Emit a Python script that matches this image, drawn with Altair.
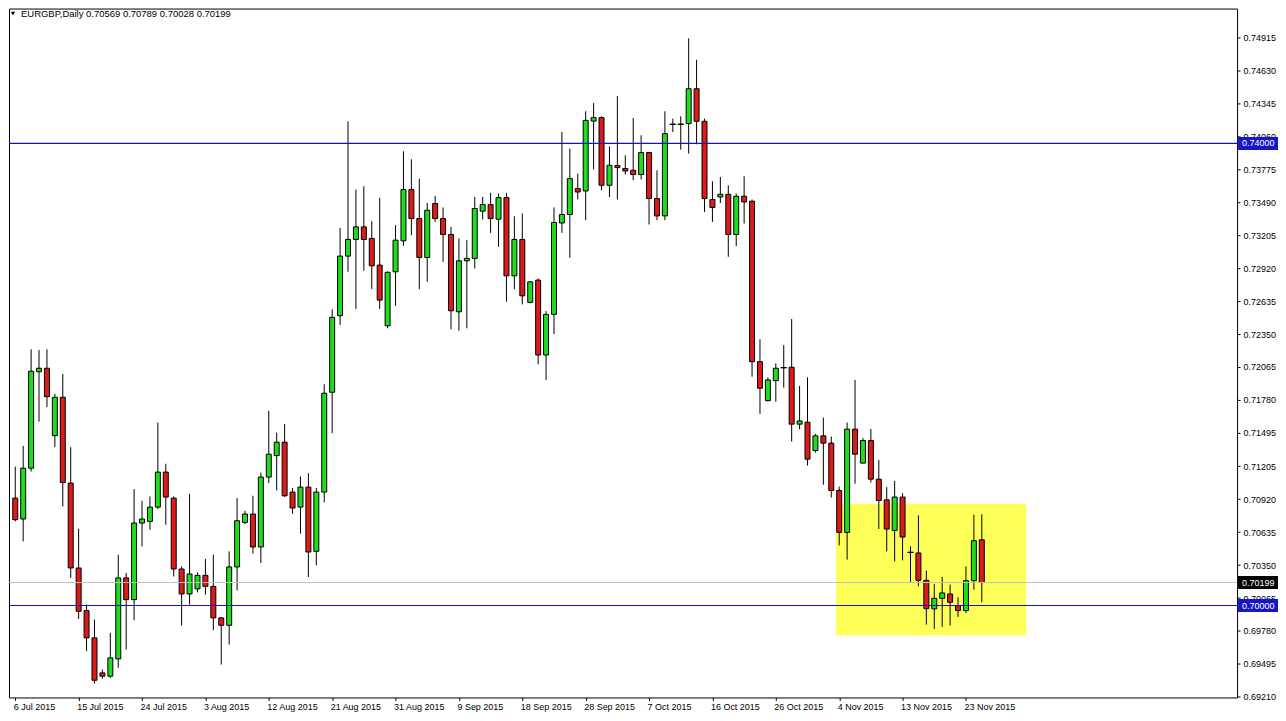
import altair as alt
import pandas as pd

# ---- OHLC values (EURGBP daily) ----
opens = [
    0.70930, 0.70749, 0.71189, 0.72024, 0.72054, 0.71471, 0.71803, 0.71060, 0.70325, 0.69956,
    0.69720, 0.69417, 0.69388, 0.69538, 0.70239, 0.70051, 0.70714, 0.70728, 0.70852, 0.71155,
    0.70930, 0.70316, 0.70100, 0.70144, 0.70261, 0.70166, 0.69893, 0.69829, 0.70334, 0.70719,
    0.70792, 0.70507, 0.71112, 0.71298, 0.71414, 0.70982, 0.70852, 0.71025, 0.70469, 0.70982,
    0.71846, 0.72509, 0.73025, 0.73169, 0.73278, 0.73178, 0.72947, 0.72422, 0.72889, 0.73157,
    0.73601, 0.73350, 0.73013, 0.73480, 0.73350, 0.73212, 0.72543, 0.72984, 0.73005, 0.73414,
    0.73471, 0.73344, 0.73532, 0.72854, 0.73169, 0.72624, 0.72817, 0.72169, 0.72521, 0.73312,
    0.73385, 0.73610, 0.73589, 0.74194, 0.74224, 0.73638, 0.73809, 0.73783, 0.73768, 0.73731,
    0.73921, 0.73523, 0.73373, 0.74166, 0.74166, 0.74172, 0.74474, 0.74192, 0.73515, 0.73537,
    0.73560, 0.73212, 0.73543, 0.73500, 0.72111, 0.71774, 0.71947, 0.72059, 0.72063, 0.71570,
    0.71587, 0.71342, 0.71469, 0.71406, 0.70996, 0.70633, 0.71527, 0.71233, 0.71428, 0.71094,
    0.70915, 0.70650, 0.70939, 0.70460, 0.70455, 0.70218, 0.69971, 0.70062, 0.70100, 0.69999,
    0.69956, 0.70215, 0.70569,
]
highs = [
    0.71203, 0.71382, 0.72218, 0.72212, 0.72218, 0.71832, 0.72005, 0.71371, 0.70665, 0.70008,
    0.69878, 0.69446, 0.69763, 0.70440, 0.70282, 0.71008, 0.70907, 0.70944, 0.71584, 0.71227,
    0.70944, 0.70339, 0.70967, 0.70287, 0.70403, 0.70440, 0.69900, 0.70469, 0.70930, 0.70820,
    0.70950, 0.71151, 0.71685, 0.71497, 0.71572, 0.71017, 0.71117, 0.71146, 0.71017, 0.71916,
    0.72564, 0.73269, 0.74192, 0.73601, 0.73630, 0.73327, 0.73529, 0.72895, 0.73293, 0.73932,
    0.73863, 0.73696, 0.73485, 0.73546, 0.73446, 0.73278, 0.73178, 0.73163, 0.73537, 0.73537,
    0.73572, 0.73567, 0.73572, 0.73370, 0.73394, 0.72808, 0.72832, 0.72549, 0.73446, 0.74099,
    0.73956, 0.73739, 0.74278, 0.74350, 0.74235, 0.73975, 0.74410, 0.73898, 0.74220, 0.74071,
    0.73926, 0.73768, 0.74278, 0.74215, 0.74235, 0.74910, 0.74725, 0.74215, 0.73673, 0.73710,
    0.73638, 0.73567, 0.73716, 0.73515, 0.72305, 0.71976, 0.72097, 0.72255, 0.72480, 0.71901,
    0.71976, 0.71486, 0.71627, 0.71463, 0.71030, 0.71584, 0.71953, 0.71449, 0.71527, 0.71261,
    0.71025, 0.71080, 0.70973, 0.70512, 0.70780, 0.70302, 0.70187, 0.70247, 0.70181, 0.70071,
    0.70339, 0.70786, 0.70789,
]
lows = [
    0.70728, 0.70555, 0.71160, 0.71592, 0.71717, 0.71371, 0.70858, 0.70239, 0.69884, 0.69604,
    0.69325, 0.69366, 0.69374, 0.69461, 0.69619, 0.69872, 0.70512, 0.70656, 0.70835, 0.70699,
    0.70252, 0.69826, 0.70008, 0.70114, 0.70094, 0.69786, 0.69489, 0.69662, 0.70131, 0.70705,
    0.70449, 0.70368, 0.71060, 0.70996, 0.70939, 0.70794, 0.70622, 0.70247, 0.70348, 0.70892,
    0.71492, 0.72428, 0.72889, 0.72566, 0.72898, 0.72739, 0.72566, 0.72400, 0.72595, 0.73114,
    0.73206, 0.72739, 0.72802, 0.73321, 0.72975, 0.72391, 0.72379, 0.72400, 0.72918, 0.73342,
    0.73226, 0.73105, 0.72630, 0.72739, 0.72607, 0.72616, 0.72088, 0.71953, 0.72350, 0.73226,
    0.73010, 0.73515, 0.73336, 0.73777, 0.73595, 0.73537, 0.73515, 0.73731, 0.73682, 0.73688,
    0.73299, 0.73336, 0.73336, 0.74099, 0.73947, 0.73912, 0.73993, 0.73407, 0.73321, 0.73485,
    0.73019, 0.73111, 0.73307, 0.71981, 0.71659, 0.71765, 0.71765, 0.71886, 0.71419, 0.71527,
    0.71212, 0.71324, 0.71045, 0.70935, 0.70520, 0.70397, 0.71054, 0.71233, 0.71065, 0.70662,
    0.70469, 0.70382, 0.70391, 0.70204, 0.70166, 0.69835, 0.69798, 0.69815, 0.69826, 0.69902,
    0.69936, 0.70138, 0.70028,
]
closes = [
    0.70743, 0.71189, 0.72028, 0.72054, 0.71808, 0.71803, 0.71065, 0.70325, 0.69950, 0.69720,
    0.69353, 0.69388, 0.69547, 0.70239, 0.70051, 0.70714, 0.70749, 0.70852, 0.71155, 0.70939,
    0.70316, 0.70100, 0.70273, 0.70261, 0.70166, 0.69893, 0.69829, 0.70334, 0.70734, 0.70792,
    0.70507, 0.71112, 0.71310, 0.71414, 0.70950, 0.70844, 0.71025, 0.70463, 0.70982, 0.71838,
    0.72495, 0.73025, 0.73169, 0.73278, 0.73169, 0.72941, 0.72644, 0.72884, 0.73163, 0.73601,
    0.73350, 0.73013, 0.73422, 0.73350, 0.73212, 0.72552, 0.72984, 0.73005, 0.73437, 0.73471,
    0.73350, 0.73532, 0.72854, 0.73169, 0.72681, 0.72802, 0.72169, 0.72521, 0.73316, 0.73385,
    0.73696, 0.73580, 0.74200, 0.74224, 0.73638, 0.73811, 0.73791, 0.73762, 0.73731, 0.73921,
    0.73523, 0.73373, 0.74085, 0.74166, 0.74166, 0.74474, 0.74192, 0.73523, 0.73446, 0.73560,
    0.73212, 0.73543, 0.73494, 0.72111, 0.71881, 0.71953, 0.72054, 0.72059, 0.71570, 0.71598,
    0.71267, 0.71469, 0.71406, 0.70996, 0.70633, 0.71527, 0.71310, 0.71428, 0.71094, 0.70909,
    0.70662, 0.70939, 0.70593, 0.70460, 0.70218, 0.69973, 0.70062, 0.70109, 0.70028, 0.69956,
    0.70215, 0.70561, 0.70199,
]

# price-axis tick labels as printed on the reference
y_ticks = [0.74915, 0.74630, 0.74345, 0.74060, 0.73775, 0.73490, 0.73205, 0.72920,
           0.72635, 0.72350, 0.72065, 0.71780, 0.71495, 0.71205, 0.70920, 0.70635,
           0.70350, 0.70065, 0.69780, 0.69495, 0.69210]

# horizontal levels and the current bid
levels = [0.74000, 0.70000]
bid = 0.70199
header = "EURGBP,Daily  0.70569 0.70789 0.70028 0.70199"

# yellow highlight box (bar index range, price range)
box_bars = [103.6, 127.6]
box_prices = [0.69742, 0.70881]

GREEN = "#1fdc1f"
RED = "#dc1a1a"
BLUE_LINE = "#1414c0"
BLUE_TAG = "#1616c4"
YELLOW = "#ffff5a"

# ---- frame ----
dates = pd.bdate_range("2015-07-06", periods=len(opens), freq="C",
                       weekmask="Sun Mon Tue Wed Thu Fri")
df = pd.DataFrame({"i": range(len(opens)), "o": opens, "h": highs, "l": lows, "c": closes})
df["dir"] = ["up" if c >= o else "down" for o, c in zip(opens, closes)]

tick_idx = list(range(0, len(opens), 8))
tick_labels = [f"{d.day} {d.strftime('%b %Y')}" for d in dates[tick_idx]]
label_expr = "[" + ",".join(f"'{t}'" for t in tick_labels) + "][round(datum.value/8)]"

W, H = 1230, 690
x_dom = [-0.16, -0.16 + W / 8.0]
y_dom = [0.69204, 0.75168]


def X(field):
    return alt.X(f"{field}:Q",
                 scale=alt.Scale(domain=x_dom, nice=False, zero=False),
                 axis=alt.Axis(values=tick_idx, labelExpr=label_expr, title=None,
                               tickSize=3, labelAlign="left", labelPadding=2,
                               labelOffset=-2, domain=False, grid=False,
                               labelFlush=False, labelOverlap=False))


def Y(field):
    return alt.Y(f"{field}:Q",
                 scale=alt.Scale(domain=y_dom, nice=False, zero=False),
                 axis=alt.Axis(orient="right", values=y_ticks, format=".5f", title=None,
                               tickSize=3, labelPadding=3, domain=False, grid=False,
                               labelFlush=False, labelOverlap=False))


base = alt.Chart(df)

box = alt.Chart(pd.DataFrame({"x0": [box_bars[0]], "x1": [box_bars[1]],
                              "y0": [box_prices[0]], "y1": [box_prices[1]]})).mark_rect(
    color=YELLOW).encode(x=X("x0"), x2="x1", y=Y("y0"), y2="y1")

wicks = base.mark_rule(color="black", strokeWidth=1).encode(x=X("i"), y=Y("l"), y2="h")

bodies = base.mark_bar(size=5, stroke="black", strokeWidth=1).encode(
    x=X("i"), y=Y("o"), y2="c",
    color=alt.Color("dir:N", scale=alt.Scale(domain=["up", "down"], range=[GREEN, RED]),
                    legend=None))

doji = base.transform_filter("datum.o == datum.c").mark_tick(
    orient="horizontal", size=7, thickness=1, color="black").encode(x=X("i"), y=Y("o"))

bid_line = alt.Chart(pd.DataFrame({"p": [bid]})).mark_rule(
    color="#c0c0c0", strokeWidth=1).encode(y=Y("p"))

level_lines = alt.Chart(pd.DataFrame({"p": levels})).mark_rule(
    stroke=BLUE_LINE, color=BLUE_LINE, strokeWidth=1.2, strokeOpacity=1).encode(y=Y("p"))

half = 0.00057
tags_df = pd.DataFrame({
    "p": levels + [bid],
    "bg": [BLUE_TAG, BLUE_TAG, "#000000"],
    "label": [f"{v:.5f}" for v in levels + [bid]],
})
tags_df["top"] = tags_df["p"] + half
tags_df["bot"] = tags_df["p"] - half

tag_rects = alt.Chart(tags_df).mark_rect().encode(
    x=alt.value(W + 1), x2=alt.value(W + 41), y=Y("top"), y2="bot",
    fill=alt.Fill("bg:N", scale=None))
tag_text = alt.Chart(tags_df).mark_text(
    align="left", baseline="middle", font="Liberation Sans", fontSize=9, color="white").encode(
    x=alt.value(W + 5), y=Y("p"), text="label:N")

head_tri = alt.Chart(pd.DataFrame({"a": [0]})).mark_point(
    shape="triangle-down", filled=True, size=18, color="black", opacity=1).encode(
    x=alt.value(4), y=alt.value(5))
head_text = alt.Chart(pd.DataFrame({"t": [header]})).mark_text(
    align="left", baseline="middle", font="Liberation Sans", fontSize=9.5, color="black").encode(
    x=alt.value(12), y=alt.value(5), text="t:N")

chart = alt.layer(
    box, wicks, bodies, doji, bid_line, level_lines, tag_rects, tag_text, head_tri, head_text
).properties(
    width=W, height=H,
    padding={"left": 0, "top": 0, "right": 0, "bottom": 0},
    background="white",
).configure_view(
    stroke="black", strokeWidth=1
).configure_axis(
    labelFont="Liberation Sans", labelFontSize=9, labelColor="black",
    tickColor="black", tickWidth=1
)

chart.save("out.html", embed_options={"renderer": "svg", "actions": False})
